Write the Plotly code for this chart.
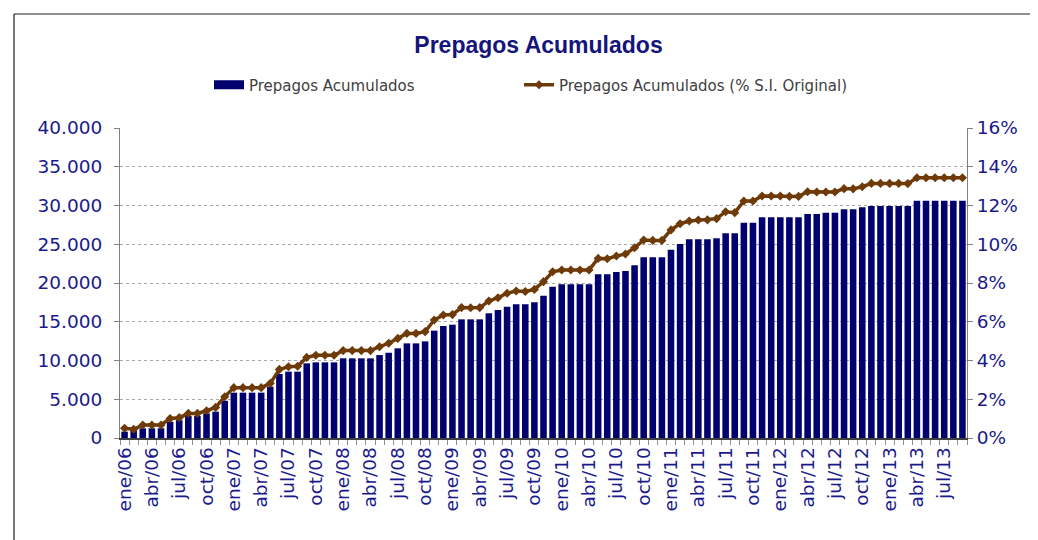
import plotly.graph_objects as go

meses = ["ene", "feb", "mar", "abr", "may", "jun", "jul", "ago", "sep", "oct", "nov", "dic"]
anios = ["06", "07", "08", "09", "10", "11", "12", "13"]
categorias = [f"{m}/{a}" for a in anios for m in meses][:93]  # ene/06 .. sep/13

prepagos = [820, 940, 1250, 1250, 1250, 2100, 2300, 2840, 2840, 3180,
            3400, 4800, 5850, 5850, 5850, 5850, 6620, 8260, 8560, 8560,
            9630, 9760, 9760, 9760, 10280, 10280, 10280, 10280, 10700, 11000,
            11570, 12210, 12210, 12470, 13850, 14450, 14620, 15310, 15310, 15310,
            16090, 16520, 16950, 17250, 17250, 17510, 18370, 19530, 19830, 19830,
            19830, 19830, 21120, 21120, 21420, 21550, 22280, 23310, 23310, 23310,
            24300, 25030, 25630, 25630, 25630, 25760, 26410, 26410, 27780, 27780,
            28470, 28470, 28470, 28470, 28470, 28900, 28900, 29080, 29080, 29510,
            29510, 29760, 29940, 29940, 29940, 29940, 29940, 30620, 30620, 30620,
            30620, 30620, 30620]

pct_si = [0.50, 0.45, 0.67, 0.67, 0.67, 1.01, 1.05, 1.27, 1.27, 1.41,
          1.58, 2.13, 2.60, 2.60, 2.60, 2.60, 2.82, 3.54, 3.68, 3.70,
          4.16, 4.27, 4.27, 4.27, 4.51, 4.51, 4.51, 4.51, 4.71, 4.89,
          5.14, 5.40, 5.40, 5.49, 6.09, 6.35, 6.37, 6.73, 6.72, 6.73,
          7.07, 7.24, 7.47, 7.59, 7.56, 7.67, 8.07, 8.58, 8.67, 8.67,
          8.67, 8.67, 9.27, 9.25, 9.39, 9.50, 9.82, 10.22, 10.20, 10.20,
          10.74, 11.06, 11.20, 11.25, 11.26, 11.32, 11.68, 11.63, 12.23, 12.23,
          12.49, 12.49, 12.49, 12.47, 12.47, 12.71, 12.70, 12.70, 12.70, 12.87,
          12.86, 12.97, 13.14, 13.14, 13.14, 13.14, 13.13, 13.43, 13.43, 13.43,
          13.43, 13.43, 13.43]

y_ticks = list(range(0, 40001, 5000))
y2_ticks = list(range(0, 17, 2))
y2_text = [f"{v}%" for v in y2_ticks]

x_idx = list(range(len(categorias)))
label_idx = x_idx[::3]
label_txt = categorias[::3]

# page has an 8px body margin; target layout is in page coordinates
OFF = 8
W, H = 1038 - OFF, 540 - OFF
PL, PR, PT, PB = 120, 967, 128, 438          # plot area in page coords
L, T = PL - OFF, PT - OFF
pw, ph = PR - PL, PB - PT
R, B = W - L - pw, H - T - ph


def px(x):  # page x -> paper fraction
    return (x - PL) / pw


def py(y):  # page y -> paper fraction
    return (PB - y) / ph


navy_bar = "#00006e"
brown = "#6e3a08"
navy_txt = "#1a1a8c"
tick_font = dict(family="DejaVu Sans", size=18.5, color=navy_txt)

fig = go.Figure()
fig.add_trace(go.Bar(
    x=x_idx, y=prepagos, name="Prepagos Acumulados",
    marker=dict(color=navy_bar, line=dict(width=0)),
    width=0.72, showlegend=False,
))
# legend entry with a wide swatch, like the original
fig.add_trace(go.Scatter(
    x=[None], y=[None], name="Prepagos Acumulados", mode="lines",
    line=dict(color=navy_bar, width=9), legend="legend", hoverinfo="skip",
))
fig.add_trace(go.Scatter(
    x=x_idx, y=pct_si, name="Prepagos Acumulados (% S.I. Original)",
    yaxis="y2", mode="lines+markers",
    line=dict(color=brown, width=3.5),
    marker=dict(symbol="diamond", size=7, color=brown),
    legend="legend2",
))

legend_font = dict(family="DejaVu Sans", size=15, color="#404040")

fig.update_layout(
    width=W, height=H,
    margin=dict(l=L, r=R, t=T, b=B, autoexpand=False),
    paper_bgcolor="white", plot_bgcolor="white",
    separators=",.",
    showlegend=True,
    title=dict(text="<b>Prepagos Acumulados</b>", xref="container",
               x=(538.5 - OFF) / W, xanchor="center",
               y=1 - (45 - OFF) / H, yanchor="middle",
               font=dict(family="Liberation Sans, Arial", size=23, color="#14147a")),
    legend=dict(orientation="h", x=px(209), xanchor="left", y=py(85), yanchor="middle",
                font=legend_font, bgcolor="rgba(0,0,0,0)"),
    legend2=dict(orientation="h", x=px(519), xanchor="left", y=py(85), yanchor="middle",
                 font=legend_font, bgcolor="rgba(0,0,0,0)"),
    xaxis=dict(
        range=[-0.5, len(categorias) - 0.5],
        tickmode="array", tickvals=label_idx, ticktext=label_txt,
        tickangle=-90, ticks="",
        tickfont=tick_font,
        showgrid=False, zeroline=False,
        showline=True, linecolor="#404040", linewidth=1.5,
        minor=dict(ticks="outside", tick0=-0.5, dtick=1, ticklen=5,
                   tickcolor="#909090", showgrid=False),
    ),
    yaxis=dict(
        range=[0, 40000], tickmode="array", tickvals=y_ticks,
        tickformat=",d",
        tickfont=tick_font, ticklabelstandoff=8,
        showgrid=True, gridcolor="#a8a8a8", griddash="dot", gridwidth=1,
        zeroline=False, showline=True, linecolor="#808080", linewidth=1,
        ticks="outside", ticklen=5, tickcolor="#808080",
    ),
    yaxis2=dict(
        range=[0, 16], tickmode="array", tickvals=y2_ticks, ticktext=y2_text,
        overlaying="y", side="right",
        tickfont=tick_font,
        showgrid=False, zeroline=False, showline=True, linecolor="#808080",
        linewidth=1, ticks="outside", ticklen=5, tickcolor="#808080",
    ),
    bargap=0.28,
)

# outer chart frame (top and left edges visible)
frame = dict(color="#202020", width=1.2)
fig.add_shape(type="line", xref="paper", yref="paper",
              x0=px(14), x1=px(1040), y0=py(14), y1=py(14), line=frame, layer="below")
fig.add_shape(type="line", xref="paper", yref="paper",
              x0=px(14), x1=px(14), y0=py(14), y1=py(545), line=frame, layer="below")

fig.write_html("out.html")
